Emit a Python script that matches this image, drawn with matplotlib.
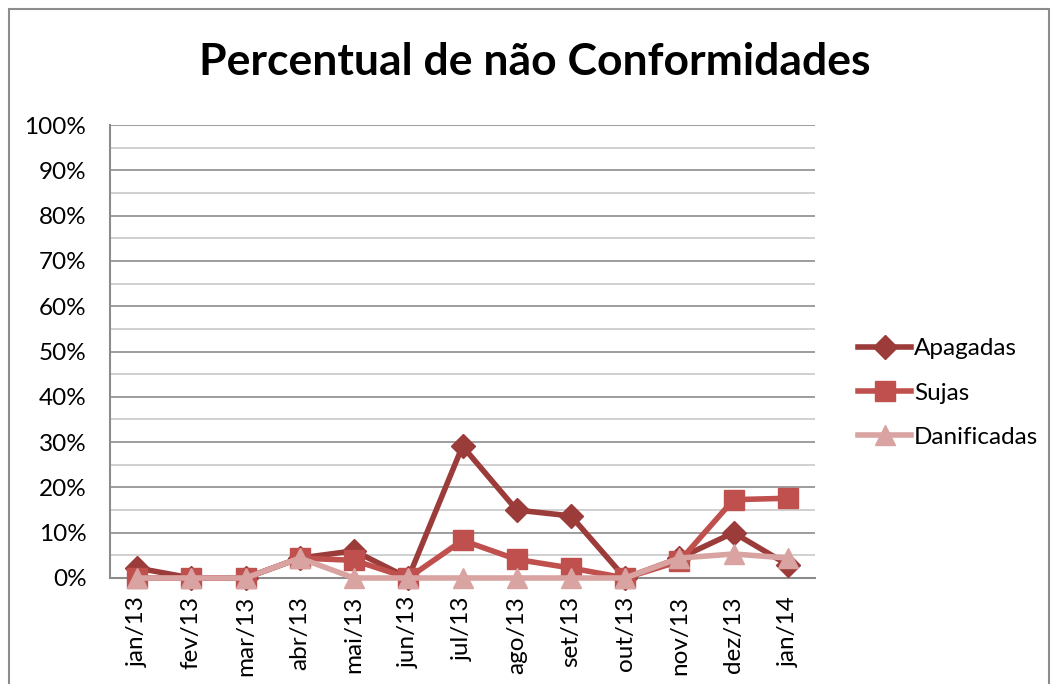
import matplotlib
matplotlib.use("Agg")
import matplotlib.pyplot as plt
from matplotlib.patches import Rectangle

categories = ["jan/13", "fev/13", "mar/13", "abr/13", "mai/13", "jun/13", "jul/13",
              "ago/13", "set/13", "out/13", "nov/13", "dez/13", "jan/14"]
apagadas = [2.2, 0, 0, 4.4, 6.0, 0, 29.1, 15.0, 13.7, 0, 4.4, 10.0, 2.9]
sujas = [0, 0, 0, 4.4, 3.9, 0, 8.3, 4.1, 2.2, 0, 3.7, 17.3, 17.6]
danificadas = [0, 0, 0, 4.4, 0, 0, 0, 0, 0, 0, 4.4, 5.3, 4.4]
yticks = list(range(0, 101, 10))
ytick_labels = [f"{v}%" for v in yticks]

plt.rcParams['font.family'] = ['Lato', 'DejaVu Sans']

fig = plt.figure(figsize=(10.51, 6.84), dpi=100)
ax = fig.add_axes([110/1051, 1-578/684, 705/1051, 453/684])

x = list(range(len(categories)))
ax.plot(x, apagadas, color="#9B3B3A", lw=4, marker="D", ms=12, label="Apagadas", zorder=3, clip_on=False)
ax.plot(x, sujas, color="#C0504D", lw=4, marker="s", ms=14, label="Sujas", zorder=4, clip_on=False)
ax.plot(x, danificadas, color="#D9A3A2", lw=4, marker="^", ms=15, label="Danificadas", zorder=5, clip_on=False)

ax.set_xlim(-0.5, 12.5)
ax.set_ylim(0, 100)
ax.set_yticks(yticks)
ax.set_yticklabels(ytick_labels, fontsize=17.5)
for v in range(5, 100, 10):
    ax.axhline(v, color="#C8C8C8", lw=1.2, zorder=1)
for v in range(10, 101, 10):
    ax.axhline(v, color="#8C8C8C", lw=1.2, zorder=1)
ax.set_xticks(x)
ax.set_xticklabels(categories, rotation=90, fontsize=17.5)
ax.tick_params(axis='x', length=0, pad=13)
ax.tick_params(axis='y', length=0, pad=17)
for side in ["top", "right"]:
    ax.spines[side].set_visible(False)
for side in ["left", "bottom"]:
    ax.spines[side].set_color("#8C8C8C")
    ax.spines[side].set_linewidth(1.5)

fig.text(535/1051, 1-62/684, "Percentual de não Conformidades", ha="center", va="center",
         fontsize=32, fontweight="bold")

leg = fig.legend(loc="center left", bbox_to_anchor=(836/1051, 1-393/684), frameon=False,
                 fontsize=17.5, handlelength=2.2, labelspacing=0.95, handletextpad=0.1)

fig.patches.append(Rectangle((9/1051, -0.05), 1040/1051, 1-9/684+0.05, transform=fig.transFigure,
                             fill=False, edgecolor="#8C8C8C", lw=1.5))

fig.savefig("out.png", dpi=100)
